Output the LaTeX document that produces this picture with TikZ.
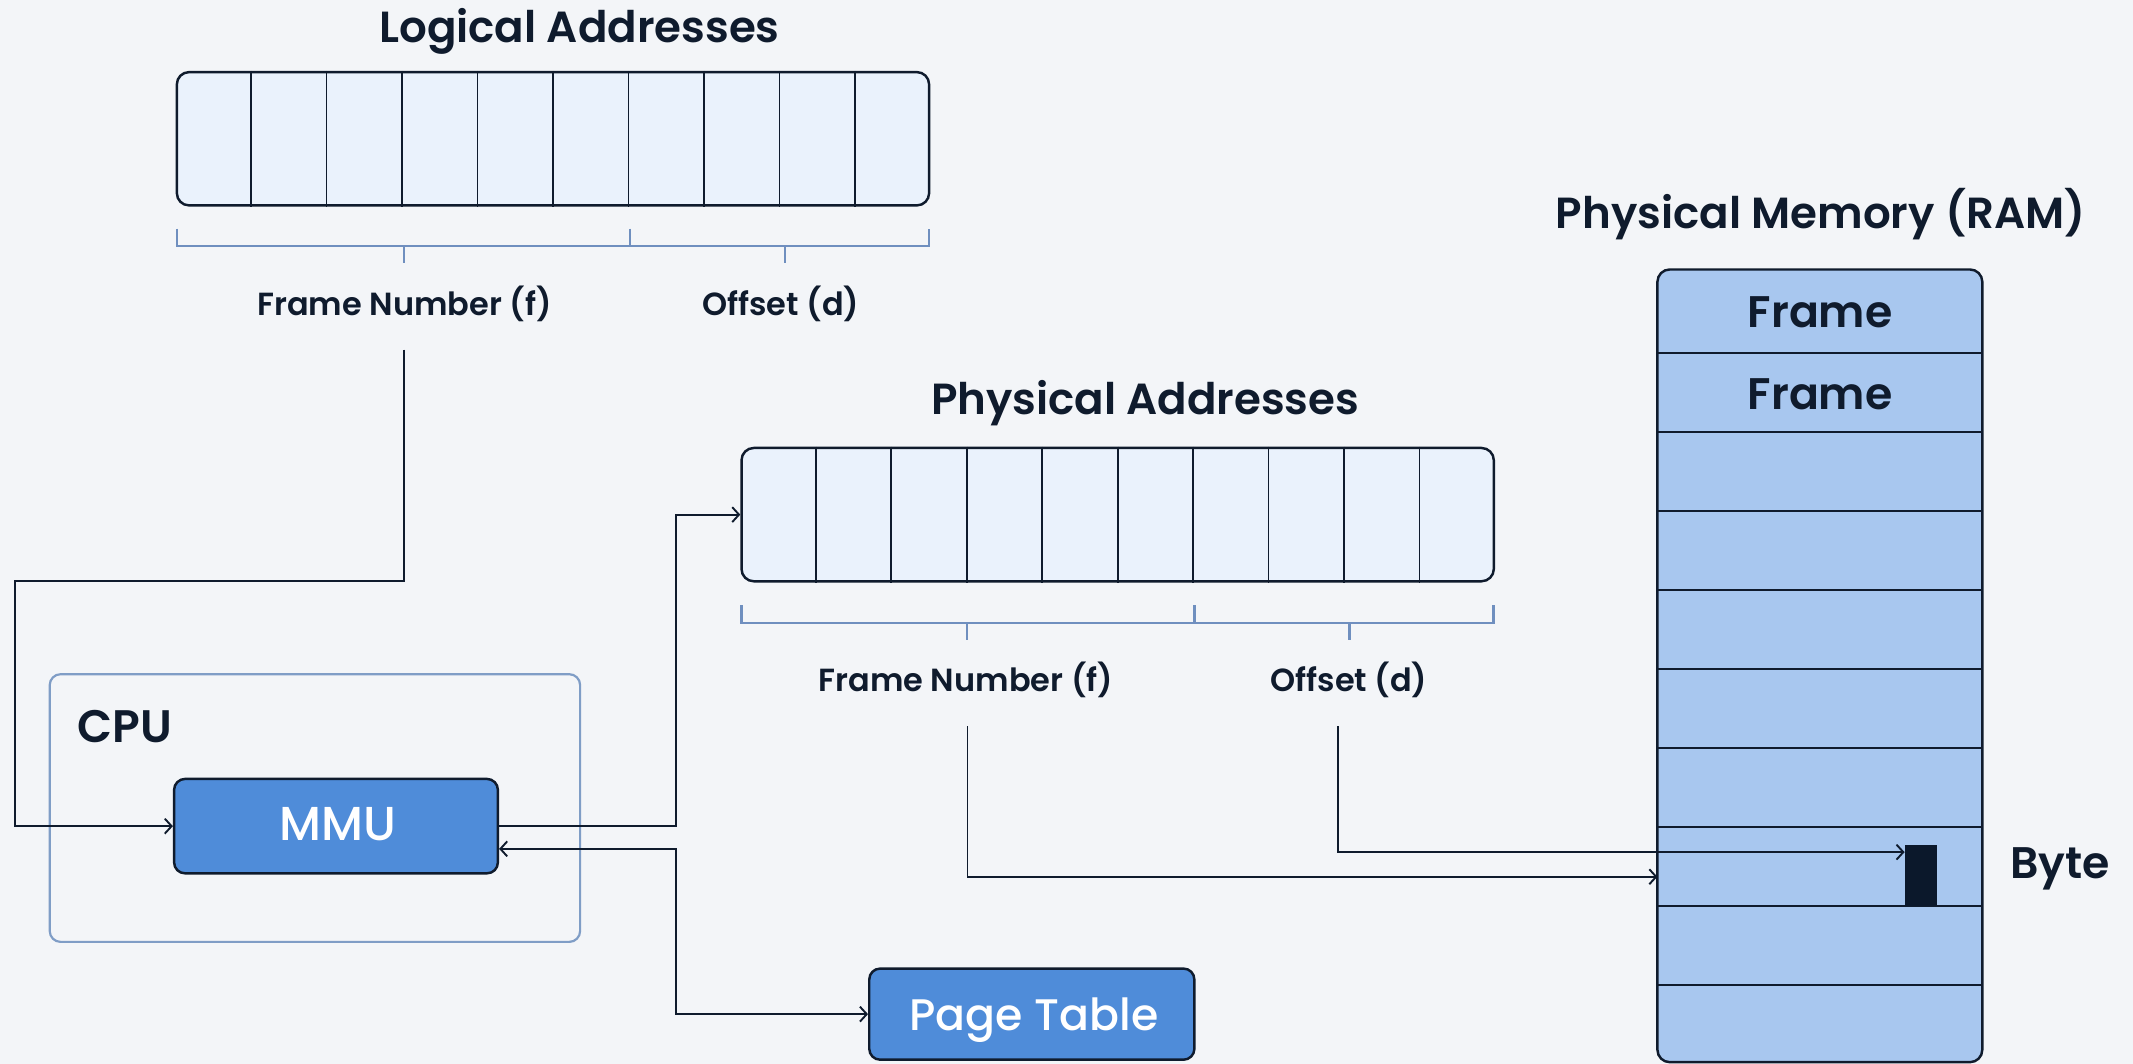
\documentclass[tikz,border=0pt]{standalone}
\usepackage{fontspec}
\setmainfont{Poppins}[UprightFont=* Medium,BoldFont=* SemiBold]
\usetikzlibrary{arrows.meta,calc}
\definecolor{bgc}{HTML}{F3F5F8}
\definecolor{ink}{HTML}{0F1B2D}
\definecolor{cellc}{HTML}{EAF2FC}
\definecolor{brk}{HTML}{6F8FBF}
\definecolor{boxblue}{HTML}{4F8CD9}
\definecolor{ramc}{HTML}{A8C7EF}
\definecolor{cpuc}{HTML}{7F9DC6}
\definecolor{bytec}{HTML}{0B182B}
\begin{document}
\begin{tikzpicture}[x=1pt,y=-1pt,
  conn/.style={draw=ink,line width=1.4pt},
  tip/.style={-{Straight Barb[length=5pt,width=11pt]}},
  tips/.style={{Straight Barb[length=5pt,width=11pt]}-{Straight Barb[length=5pt,width=11pt]}},
  regbox/.style={draw=ink,line width=1.8pt,fill=cellc,rounded corners=9pt,minimum width=553pt,minimum height=98pt,inner sep=0pt},
  div/.style={draw=ink,line width=1.3pt},
  brace/.style={draw=brk,line width=1.8pt},
  lbl/.style={text=ink,font=\bfseries\fontsize{23.5}{26}\selectfont,inner sep=0pt,anchor=base},
  ttl/.style={text=ink,font=\bfseries\fontsize{32}{36}\selectfont,inner sep=0pt,anchor=base},
  bbox/.style={draw=ink,line width=1.8pt,fill=boxblue,rounded corners=8pt,inner sep=0pt},
  btxt/.style={text=white,font=\fontsize{32.5}{36}\selectfont,inner sep=0pt,anchor=base},
  ramtxt/.style={text=ink,font=\bfseries\fontsize{32.5}{36}\selectfont,inner sep=0pt,anchor=base}
]
\fill[bgc] (0,0) rectangle (1568,782);
\useasboundingbox (0,0) rectangle (1568,782);

% Logical addresses
\node[ttl] (ltitle) at (426,31) {Logical Addresses};
\node[regbox] (lreg) at (406.5,102) {};
\foreach \i in {1,...,9}
  \draw[div] ($(lreg.north west)!\i/10!(lreg.north east)$) -- ($(lreg.south west)!\i/10!(lreg.south east)$);
\draw[brace] (130,168) -- (130,181) -- (683,181) -- (683,168);
\draw[brace] (463,168) -- (463,181);
\draw[brace] (297,181) -- (297,193);
\draw[brace] (577,181) -- (577,193);
\node[lbl] (lfn) at (297.4,232) {Frame Number (f)};
\node[lbl] (lofs) at (574,232) {Offset (d)};

% Physical addresses
\node[ttl] (ptitle) at (841.8,305) {Physical Addresses};
\node[regbox] (preg) at (821.6,378.3) {};
\foreach \i in {1,...,9}
  \draw[div] ($(preg.north west)!\i/10!(preg.north east)$) -- ($(preg.south west)!\i/10!(preg.south east)$);
\draw[brace] (545,445) -- (545,458) -- (1098,458) -- (1098,445);
\draw[brace] (878,445) -- (878,458);
\draw[brace] (711,458) -- (711,470.5);
\draw[brace] (992,458) -- (992,470.5);
\node[lbl] (pfn) at (710,508.5) {Frame Number (f)};
\node[lbl] (pofs) at (991.6,508.5) {Offset (d)};

% CPU and MMU
\node[draw=cpuc,line width=1.6pt,rounded corners=8pt,minimum width=389.9pt,minimum height=196.8pt,inner sep=0pt] (cpu) at (231.5,594) {};
\node[text=ink,font=\bfseries\fontsize{33.5}{36}\selectfont,inner sep=0pt,anchor=base] (cpul) at (92,546) {CPU};
\node[bbox,minimum width=238pt,minimum height=69.4pt] (mmu) at (247,607.3) {};
\node[btxt,font=\fontsize{35}{38}\selectfont] (mmul) at (248.4,617.6) {MMU};

% Page table
\node[bbox,minimum width=239pt,minimum height=67pt] (ptab) at (758.5,745.5) {};
\node[btxt] (ptabl) at (760,757.6) {Page Table};

% Physical memory
\node[ttl] (rtitle) at (1338.5,168) {Physical Memory (RAM)};
\node[draw=ink,line width=1.8pt,fill=ramc,rounded corners=9pt,minimum width=238.8pt,minimum height=582.7pt,inner sep=0pt] (ram) at (1337.8,489.45) {};
\foreach \k in {0,...,8}
  \draw[div] (1218.4,{259.4+\k*58.1}) -- (1457.2,{259.4+\k*58.1});
\node[ramtxt] (fr1) at (1338,241) {Frame};
\node[ramtxt] (fr2) at (1338,301) {Frame};
\node[fill=bytec,minimum width=23.4pt,minimum height=44.6pt,inner sep=0pt] (byte) at (1412,643.7) {};
\node[ramtxt] (bytel) at (1514.5,646) {Byte};

% connectors
\coordinate (lfs) at (297,257);
\coordinate (lbend) at (11,427);
\draw[conn,tip] (lfs) |- (lbend) |- (mmu.west);
\coordinate (jx) at (497,0);
\draw[conn,tip] (mmu.east) -- (mmu.east -| jx) |- (preg.west);
\coordinate (mr) at ($(mmu.east)+(0,16.7)$);
\draw[conn,tips] (mr) -- (mr -| jx) |- (ptab.west);
\coordinate (pfs) at (711.2,534);
\coordinate (ramin) at (1218.4,644.5);
\draw[conn,tip] (pfs) |- (ramin);
\coordinate (pos) at (983.3,534);
\coordinate (bytein) at ($(byte.north west)+(0,5.2)$);
\draw[conn,tip] (pos) |- (bytein);
\end{tikzpicture}
\end{document}
